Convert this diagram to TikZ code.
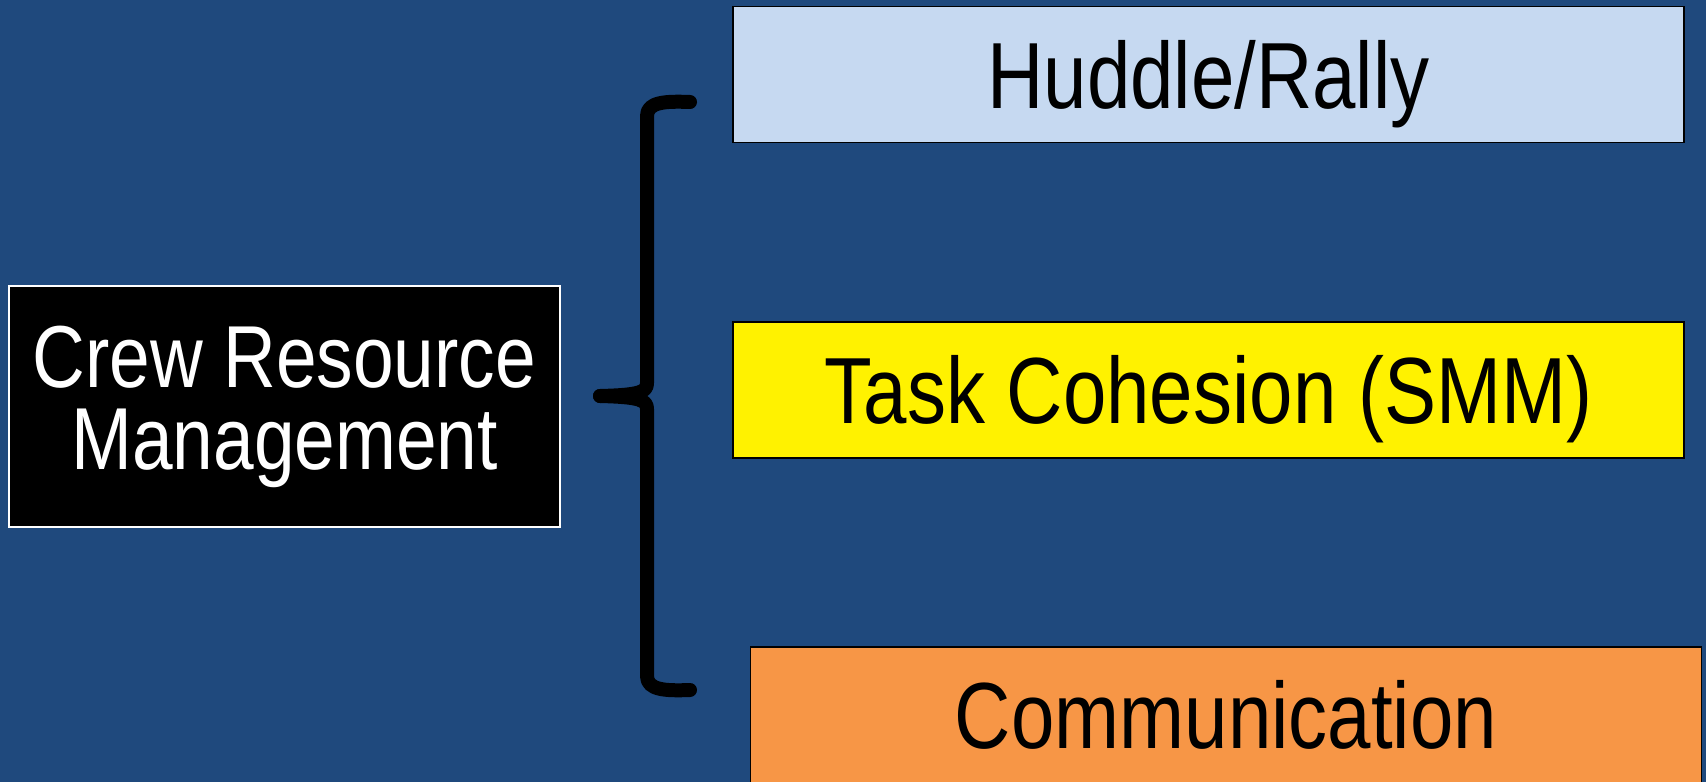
\documentclass[tikz,border=0pt]{standalone}
\usepackage{fontspec}
\setmainfont{Liberation Sans}[FakeStretch=0.83]
\definecolor{bgblue}{HTML}{1F497D}
\definecolor{lightblue}{HTML}{C6D9F1}
\definecolor{orangebox}{HTML}{F79646}
\begin{document}
\begin{tikzpicture}[x=1pt,y=-1pt,
  itembox/.style={draw=black, line width=1.5pt, minimum width=951pt, minimum height=136pt,
    inner sep=0pt, text height=67pt, text depth=0pt, text=black,
    font=\fontsize{94}{94}\selectfont},
  crmbox/.style={draw=white, fill=black, line width=1.5pt, minimum width=551pt, minimum height=241pt,
    inner sep=0pt, text=white, align=center, font=\fontsize{88}{82}\selectfont},
  bracestroke/.style={draw=black, line width=14pt, line cap=round, line join=round}]
\useasboundingbox (0,0) rectangle (1706,782);
\fill[bgblue] (0,0) rectangle (1706,782);

\node[crmbox] (crm) at (284.5,406.5) {Crew Resource\\Management};
\node[itembox, fill=lightblue] (huddle) at (1208.5,74.5) {Huddle/Rally};
\node[itembox, fill=yellow] (task) at (1208.5,390) {Task Cohesion (SMM)};
\node[itembox, fill=orangebox] (comm) at (1226,715) {Communication};

\coordinate (tip) at (600,396);
\coordinate (topend) at (690,102);
\coordinate (botend) at (690,690);

\draw[bracestroke] (topend) .. controls (665,101) and (647,102) .. (647,116)
  -- (647,383) .. controls (647,392) and (640,395) .. (tip);
\draw[bracestroke] (botend) .. controls (665,691) and (647,690) .. (647,676)
  -- (647,409) .. controls (647,400) and (640,397) .. (tip);
\end{tikzpicture}
\end{document}
